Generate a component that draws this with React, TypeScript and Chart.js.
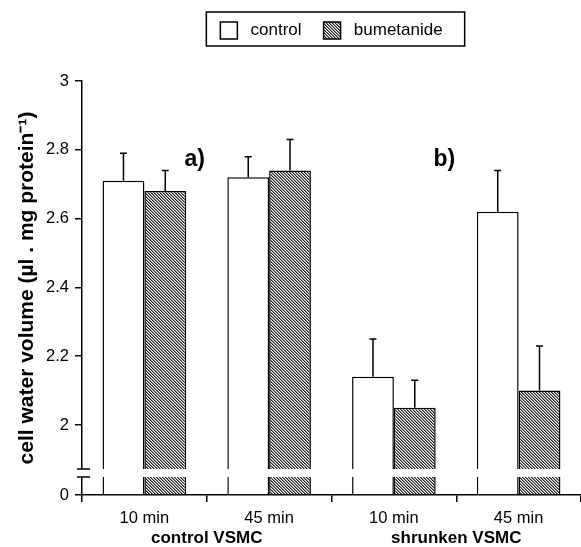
import React, { useEffect, useRef } from "react";
import { Chart, registerables } from "chart.js";

Chart.register(...registerables);

const CATEGORIES = ["10 min", "45 min", "10 min", "45 min"];
const GROUPS = ["control VSMC", "shrunken VSMC"];
const PANEL_LABELS = ["a)", "b)"];
const SERIES_NAMES = ["control", "bumetanide"];
const CONTROL_VALUES = [2.71, 2.72, 2.14, 2.62];
const CONTROL_ERRORS = [0.08, 0.06, 0.11, 0.12];
const BUMETANIDE_VALUES = [2.68, 2.74, 2.05, 2.1];
const BUMETANIDE_ERRORS = [0.06, 0.09, 0.08, 0.13];
const Y_TICK_VALUES = [0, 2, 2.2, 2.4, 2.6, 2.8, 3];
const Y_TICK_LABELS = ["0", "2", "2.2", "2.4", "2.6", "2.8", "3"];
const Y_TITLE = "cell water volume (µl . mg protein⁻¹)";
// broken axis: the value "0" is drawn at this position of the linear scale
const Y_ZERO_POSITION = 1.7965;
const Y_MAX = 3;
const BREAK_RANGE = [1.849, 1.872];
const PANEL_LABEL_VALUE = 2.77;

const FONT = "'Liberation Sans', Arial, Helvetica, sans-serif";

function makeHatch(ctx: CanvasRenderingContext2D): CanvasPattern | string {
  const n = 3;
  const c = document.createElement("canvas");
  c.width = n;
  c.height = n;
  const g = c.getContext("2d");
  if (!g) return "#999";
  g.fillStyle = "#ffffff";
  g.fillRect(0, 0, n, n);
  for (let i = 0; i < n; i++) {
    g.fillStyle = "#222222";
    g.fillRect(i, i, 1, 1);
    g.fillStyle = "#8a8a8a";
    g.fillRect((i + 1) % n, i, 1, 1);
  }
  return ctx.createPattern(c, "repeat") || "#999";
}

const legendSpacer = {
  id: "legendSpacer",
  beforeInit(chart: any) {
    const legend = chart.legend;
    if (!legend) return;
    const orig = legend.fit;
    legend.fit = function () {
      orig.call(this);
      this.height = 81;
    };
  },
};

const decorations = {
  id: "decorations",
  afterDatasetsDraw(chart: any) {
    const { ctx, chartArea, scales } = chart;
    const y = scales.y;
    const yTop = y.getPixelForValue(BREAK_RANGE[1]);
    const yBot = y.getPixelForValue(BREAK_RANGE[0]);
    ctx.save();
    // axis break band
    ctx.fillStyle = "#ffffff";
    ctx.fillRect(chartArea.left - 2, yTop, chartArea.right - chartArea.left + 2, yBot - yTop);
    ctx.strokeStyle = "#000";
    ctx.lineWidth = 1.5;
    ctx.beginPath();
    ctx.moveTo(chartArea.left - 5, yTop);
    ctx.lineTo(chartArea.left + 8, yTop);
    ctx.moveTo(chartArea.left - 5, yBot);
    ctx.lineTo(chartArea.left + 8, yBot);
    ctx.stroke();

    // error bars (upper only)
    const errs = [CONTROL_ERRORS, BUMETANIDE_ERRORS];
    const vals = [CONTROL_VALUES, BUMETANIDE_VALUES];
    chart.data.datasets.forEach((_ds: any, di: number) => {
      const meta = chart.getDatasetMeta(di);
      meta.data.forEach((el: any, j: number) => {
        const top = y.getPixelForValue(vals[di][j] + errs[di][j]);
        ctx.beginPath();
        ctx.moveTo(el.x, el.y);
        ctx.lineTo(el.x, top);
        ctx.moveTo(el.x - 3.5, top);
        ctx.lineTo(el.x + 3.5, top);
        ctx.stroke();
      });
    });
    ctx.restore();
  },
  afterDraw(chart: any) {
    const { ctx, chartArea, scales } = chart;
    const x = scales.x;
    const y = scales.y;
    ctx.save();
    // legend frame
    const hb = chart.legend && chart.legend.legendHitBoxes;
    if (hb && hb.length) {
      const first = hb[0];
      const last = hb[hb.length - 1];
      const l = first.left - 14;
      const r = last.left + last.width + 22;
      const t = first.top - 10;
      const b = first.top + first.height + 7;
      ctx.strokeStyle = "#000";
      ctx.lineWidth = 1.5;
      ctx.strokeRect(l, t, r - l, b - t);
    }
    ctx.fillStyle = "#000";
    ctx.textAlign = "center";
    ctx.textBaseline = "middle";
    // group labels
    ctx.font = `bold 17px ${FONT}`;
    GROUPS.forEach((g, i) => {
      const cx = (x.getPixelForValue(2 * i) + x.getPixelForValue(2 * i + 1)) / 2;
      ctx.fillText(g, cx, chartArea.bottom + 43);
    });
    // panel labels
    ctx.font = `bold 23px ${FONT}`;
    PANEL_LABELS.forEach((t, i) => {
      const cx = (x.getPixelForValue(2 * i) + x.getPixelForValue(2 * i + 1)) / 2 - 12;
      ctx.fillText(t, cx, y.getPixelForValue(PANEL_LABEL_VALUE));
    });
    ctx.restore();
  },
};

export default function App() {
  const ref = useRef<HTMLCanvasElement | null>(null);

  useEffect(() => {
    const canvas = ref.current;
    if (!canvas) return;
    const ctx = canvas.getContext("2d");
    if (!ctx) return;
    const hatch = makeHatch(ctx);

    const chart = new Chart(canvas, {
      type: "bar",
      data: {
        labels: CATEGORIES,
        datasets: [
          {
            label: SERIES_NAMES[0],
            data: CONTROL_VALUES,
            backgroundColor: "#ffffff",
            borderColor: "#000",
            borderWidth: 1.5,
            base: Y_ZERO_POSITION,
          } as any,
          {
            label: SERIES_NAMES[1],
            data: BUMETANIDE_VALUES,
            backgroundColor: hatch as any,
            borderColor: "#000",
            borderWidth: 1.5,
            base: Y_ZERO_POSITION,
          } as any,
        ],
      },
      options: {
        responsive: false,
        animation: false,
        devicePixelRatio: 1,
        layout: { padding: { top: 0, left: 0, right: 0, bottom: 0 } },
        datasets: { bar: { barPercentage: 1, categoryPercentage: 0.67 } },
        plugins: {
          legend: {
            position: "top",
            fullSize: false,
            labels: {
              boxWidth: 17,
              boxHeight: 17,
              padding: 22,
              color: "#000",
              font: { size: 17, family: FONT },
              generateLabels: (chart: any) =>
                Chart.defaults.plugins.legend.labels
                  .generateLabels(chart)
                  .map((item: any) => ({ ...item, text: " " + item.text })),
            },
          },
          tooltip: { enabled: false },
        },
        scales: {
          x: {
            grid: {
              display: true,
              drawOnChartArea: false,
              offset: true,
              tickLength: 7,
              color: "#000",
              lineWidth: 1.5,
            },
            border: { display: true, color: "#000", width: 1.5 },
            ticks: {
              color: "#000",
              padding: 7,
              font: { size: 16.5, family: FONT },
              maxRotation: 0,
            },
            afterFit: (s: any) => {
              s.height = 52;
            },
          },
          y: {
            min: Y_ZERO_POSITION,
            max: Y_MAX,
            grid: {
              display: true,
              drawOnChartArea: false,
              tickLength: 7,
              color: "#000",
              lineWidth: 1.5,
            },
            border: { display: true, color: "#000", width: 1.5 },
            afterBuildTicks: (s: any) => {
              s.ticks = Y_TICK_VALUES.map((v) => ({ value: v === 0 ? Y_ZERO_POSITION : v }));
            },
            ticks: {
              autoSkip: false,
              color: "#000",
              padding: 6,
              font: { size: 16.5, family: FONT },
              callback: (_v: any, i: number) => Y_TICK_LABELS[i],
            },
            title: {
              display: true,
              text: Y_TITLE,
              color: "#000",
              font: { size: 21, weight: "bold", family: FONT },
              padding: { top: 15, bottom: 0 },
            },
            afterFit: (s: any) => {
              s.width = 82;
            },
          },
        },
      },
      plugins: [legendSpacer, decorations],
    } as any);

    return () => chart.destroy();
  }, []);

  return (
    <div style={{ position: "absolute", left: 0, top: 0, width: 581, height: 547, background: "#fff" }}>
      <canvas ref={ref} width={581} height={547} />
    </div>
  );
}
